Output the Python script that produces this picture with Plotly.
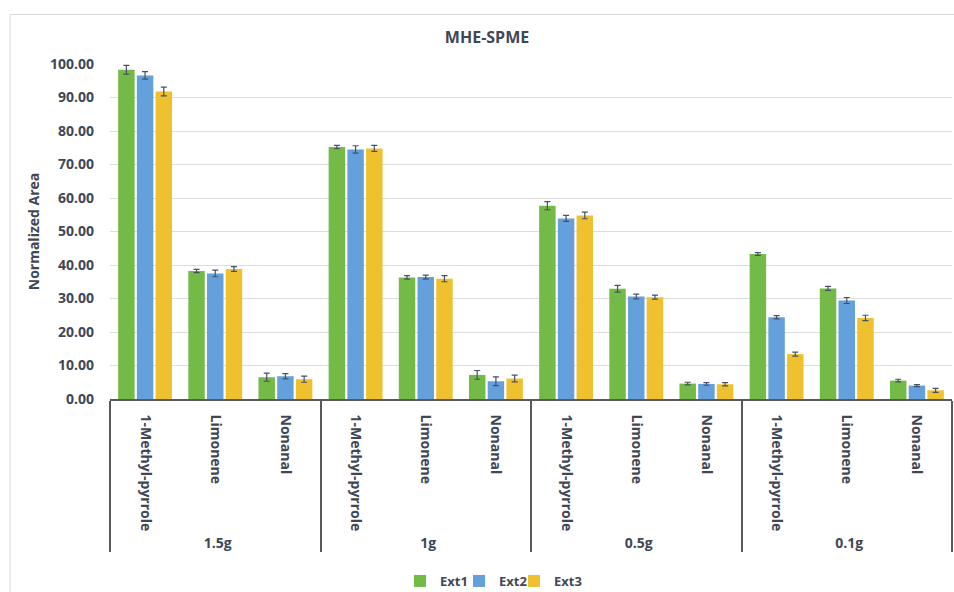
import plotly.graph_objects as go

# Sample masses (outer category) and compounds (inner category)
groups = ["1.5g", "1g", "0.5g", "0.1g"]
compounds = ["1-Methyl-pyrrole", "Limonene", "Nonanal"]

# Normalized areas, ordered group by group, compound by compound
ext1 = [98.3, 38.2, 6.5, 75.2, 36.3, 7.2, 57.7, 32.9, 4.6, 43.3, 33.0, 5.5]
ext2 = [96.6, 37.5, 6.8, 74.5, 36.4, 5.3, 53.9, 30.6, 4.5, 24.4, 29.4, 4.0]
ext3 = [91.8, 38.8, 5.9, 74.8, 35.9, 6.1, 54.8, 30.4, 4.4, 13.4, 24.2, 2.6]

# Standard deviations for the error bars
err1 = [1.3, 0.5, 1.2, 0.5, 0.5, 1.3, 1.2, 1.0, 0.4, 0.4, 0.6, 0.4]
err2 = [1.1, 1.0, 0.8, 1.1, 0.6, 1.3, 0.9, 0.7, 0.4, 0.5, 0.9, 0.3]
err3 = [1.3, 0.7, 0.9, 0.9, 0.9, 1.0, 1.0, 0.6, 0.5, 0.6, 0.8, 0.6]

series = [
    ("Ext1", ext1, err1, "#74BA46"),
    ("Ext2", ext2, err2, "#64A0DC"),
    ("Ext3", ext3, err3, "#EFC12F"),
]

outer = [g for g in groups for _ in compounds]
inner = [c for _ in groups for c in compounds]

TEXT = "#3F4756"
FONT = "Open Sans"
W, H = 954, 592

# each series gets its own legend box so the key sits in a tight row
legend_left_px = [400, 459, 514]
legend_ids = ["legend", "legend2", "legend3"]

fig = go.Figure()
for (name, vals, errs, color), lid in zip(series, legend_ids):
    fig.add_trace(go.Bar(
        name=name,
        x=[outer, inner],
        y=vals,
        legend=lid,
        marker=dict(color=color, line=dict(width=0)),
        error_y=dict(type="data", array=errs, visible=True,
                     color="#44506A", thickness=1.2, width=3),
    ))

legend_layout = {}
for lid, px in zip(legend_ids, legend_left_px):
    legend_layout[lid] = dict(
        orientation="h", xref="container", x=px / W, xanchor="left",
        yref="container", y=1 - 581 / H, yanchor="middle",
        font=dict(size=13, color=TEXT, weight="bold"),
        itemwidth=30, bgcolor="rgba(0,0,0,0)",
    )

fig.update_layout(
    width=W, height=H,
    margin=dict(l=110, r=2, t=64, b=193),
    paper_bgcolor="white", plot_bgcolor="white",
    barmode="group", bargap=0.2, bargroupgap=0.12,
    font=dict(family=FONT, color=TEXT, size=14),
    title=dict(text="<b>MHE-SPME</b>", xref="container", x=0.5105,
               xanchor="center", yref="container", y=1 - 37 / H,
               yanchor="middle", font=dict(size=16, color=TEXT)),
    showlegend=True,
    shapes=[dict(type="rect", xref="paper", yref="paper",
                 x0=(10 - 110) / 842, x1=1.2, y0=-1.0, y1=(399 - 14.5) / 335,
                 line=dict(color="#D9D9D9", width=1), fillcolor="rgba(0,0,0,0)",
                 layer="below")],
    **legend_layout,
)

fig.update_yaxes(
    range=[0, 100], dtick=10, tickformat=".2f",
    showgrid=True, gridcolor="#DCDCDC", gridwidth=1.2,
    zeroline=False, showline=False,
    ticklabelstandoff=15,
    tickfont=dict(size=14, color=TEXT, weight="bold"),
    title=dict(text="Normalized Area", standoff=7,
               font=dict(size=14, color=TEXT, weight="bold")),
)

fig.update_xaxes(
    type="multicategory",
    showline=True, linecolor="#595959", linewidth=1.5,
    showdividers=True, dividercolor="#595959", dividerwidth=1.5,
    tickangle=90, ticklabelstandoff=11,
    tickfont=dict(size=14, color=TEXT, weight="bold"),
    showgrid=False,
)

fig.write_html("out.html")
